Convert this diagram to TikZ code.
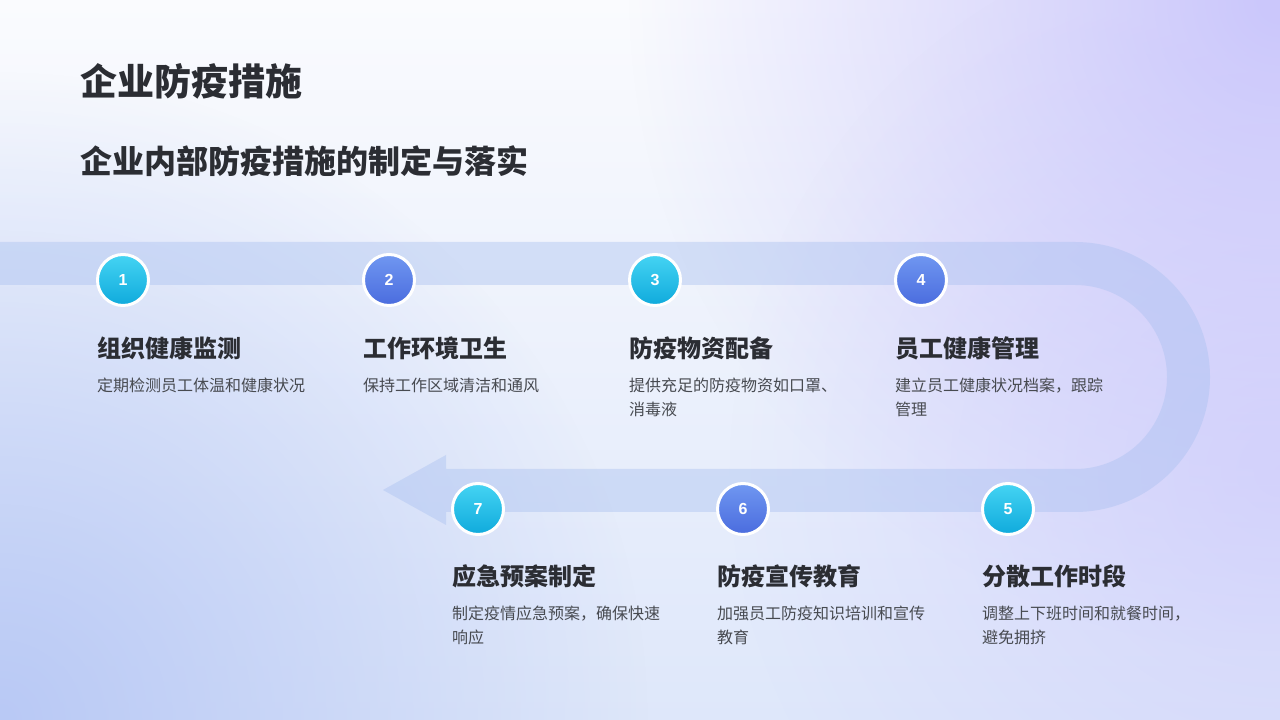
\documentclass[tikz,border=0pt]{standalone}
\usepackage{fontspec}
\setmainfont{Noto Sans CJK SC}
\newfontfamily\numfont{Liberation Sans}
\usetikzlibrary{fadings}
\definecolor{bgtop}{HTML}{FAFBFE}
\definecolor{bgbot}{HTML}{DEE7FA}
\definecolor{lavglow}{HTML}{CBC7FB}
\definecolor{blueglow}{HTML}{B9C9F5}
\definecolor{bandblue}{HTML}{A9C0F0}
\definecolor{cyantop}{HTML}{45D4F3}
\definecolor{cyanbot}{HTML}{0FAADC}
\definecolor{bluetop}{HTML}{7097F1}
\definecolor{bluebot}{HTML}{4A6CDE}
\definecolor{titlegray}{HTML}{2B2D33}
\definecolor{descgray}{HTML}{474A50}

\tikzfading[name=glow, inner color=transparent!0, outer color=transparent!100]

\begin{document}
\begin{tikzpicture}[x=1pt, y=1pt,
  stepnum/.style={circle, draw=white, line width=3pt, minimum size=51pt, inner sep=0pt,
    text=white, font=\numfont\bfseries\fontsize{16}{16}\selectfont},
  cyanstep/.style={stepnum, top color=cyantop, bottom color=cyanbot},
  bluestep/.style={stepnum, top color=bluetop, bottom color=bluebot},
  steptitle/.style={anchor=base west, inner sep=0pt, text=titlegray,
    font=\bfseries\fontsize{24}{28}\selectfont},
  stepdesc/.style={anchor=north west, inner sep=0pt, align=left, text=descgray,
    font=\fontsize{16}{24}\selectfont}]
  \useasboundingbox (0,0) rectangle (1280,720);

  % background
  \fill[top color=bgtop, bottom color=bgbot] (0,0) rectangle (1280,720);
  \begin{scope}
    \clip (0,0) rectangle (1280,720);
    \fill[lavglow, path fading=glow] (1280,720) circle (650);
    \fill[lavglow, path fading=glow, opacity=.6] (1280,250) circle (550);
    \fill[blueglow, path fading=glow] (0,0) circle (650);
  \end{scope}

  % band with arrow
  \fill[bandblue, opacity=.42] (0,478) -- (1075,478)
    arc[start angle=90, end angle=-90, radius=135] -- (446,208) -- (446,195)
    -- (383,230) -- (446,265) -- (446,251) -- (1075,251)
    arc[start angle=-90, end angle=90, radius=92] -- (0,435) -- cycle;

  % headings
  \node[anchor=base west, inner sep=0pt, text=titlegray, font=\bfseries\fontsize{37}{40}\selectfont]
    (head) at (80,624) {企业防疫措施};
  \node[anchor=base west, inner sep=0pt, text=titlegray, font=\bfseries\fontsize{32}{36}\selectfont]
    (subhead) at (80,546) {企业内部防疫措施的制定与落实};

  % top row
  \node[cyanstep] (s1) at (123,440) {1};
  \node[bluestep] (s2) at (389,440) {2};
  \node[cyanstep] (s3) at (655,440) {3};
  \node[bluestep] (s4) at (921,440) {4};
  \node[steptitle] (t1) at (97,362) {组织健康监测};
  \node[steptitle] (t2) at (363,362) {工作环境卫生};
  \node[steptitle] (t3) at (629,362) {防疫物资配备};
  \node[steptitle] (t4) at (895,362) {员工健康管理};
  \node[stepdesc] (d1) at (97,342) {定期检测员工体温和健康状况};
  \node[stepdesc] (d2) at (363,342) {保持工作区域清洁和通风};
  \node[stepdesc] (d3) at (629,342) {提供充足的防疫物资如口罩、\\消毒液};
  \node[stepdesc] (d4) at (895,342) {建立员工健康状况档案，跟踪\\管理};

  % bottom row
  \node[cyanstep] (s7) at (478,211) {7};
  \node[bluestep] (s6) at (743,211) {6};
  \node[cyanstep] (s5) at (1008,211) {5};
  \node[steptitle] (t7) at (452,134) {应急预案制定};
  \node[steptitle] (t6) at (717,134) {防疫宣传教育};
  \node[steptitle] (t5) at (982,134) {分散工作时段};
  \node[stepdesc] (d7) at (452,114) {制定疫情应急预案，确保快速\\响应};
  \node[stepdesc] (d6) at (717,114) {加强员工防疫知识培训和宣传\\教育};
  \node[stepdesc] (d5) at (982,114) {调整上下班时间和就餐时间，\\避免拥挤};
\end{tikzpicture}
\end{document}
